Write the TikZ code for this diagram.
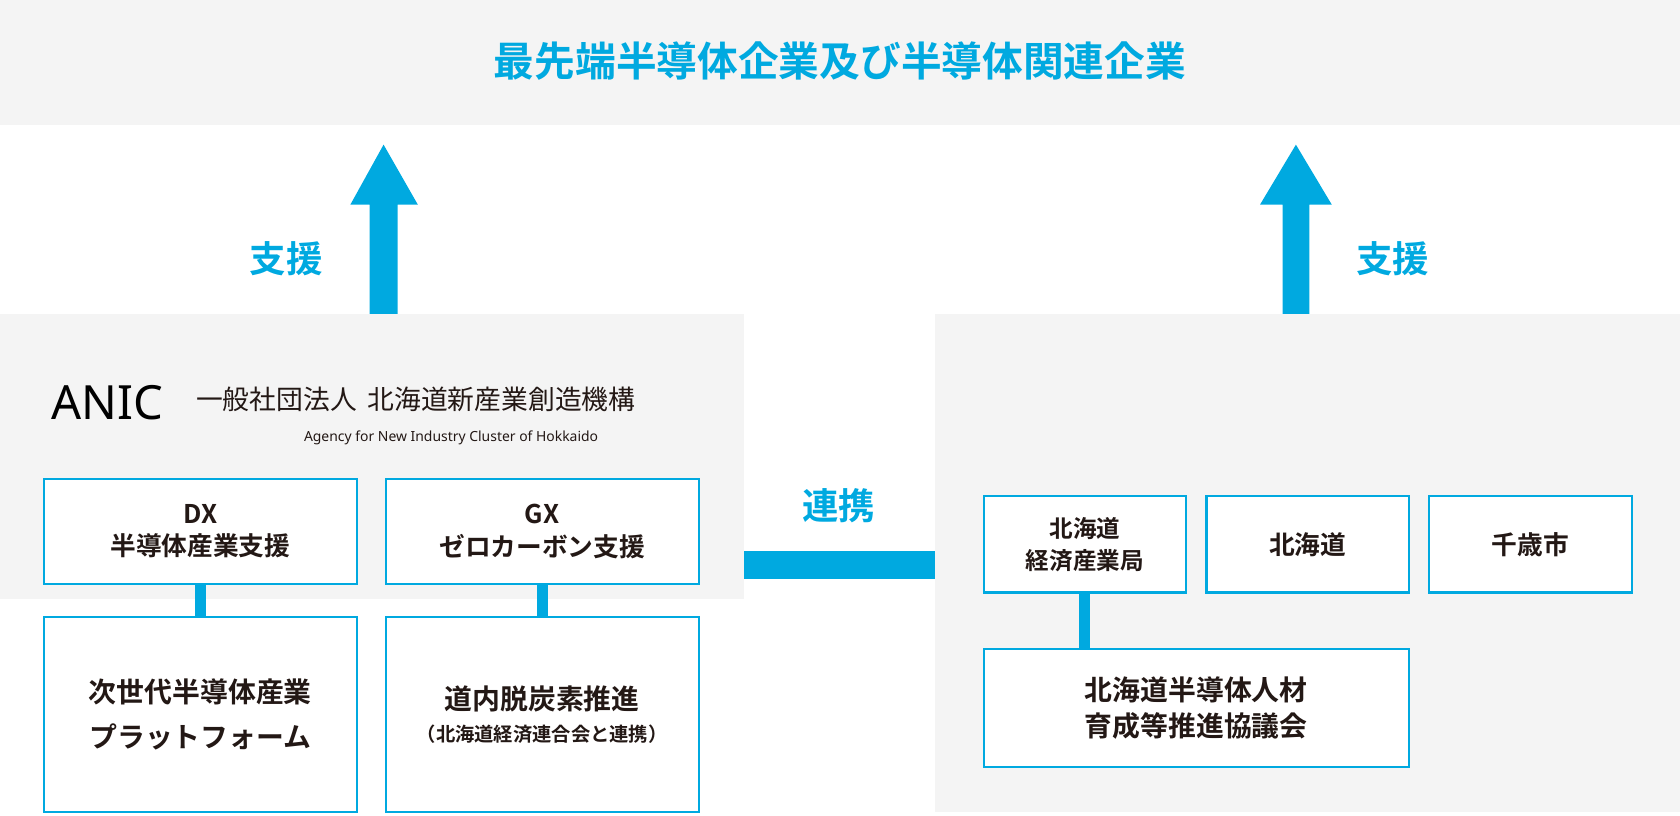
\documentclass[tikz,border=0pt]{standalone}
\usepackage{fontspec}
\setmainfont{Noto Sans CJK JP}[BoldFont={* Bold}]
\newfontfamily\jpb{Noto Sans CJK JP Bold}
\definecolor{blu}{HTML}{00A9E0}
\definecolor{pan}{HTML}{F4F4F4}
\definecolor{ink}{HTML}{231815}
\begin{document}
\begin{tikzpicture}[x=0.5pt,y=-0.5pt,
 bx/.style={draw=blu,line width=1pt,fill=white,align=center,text=ink,font=\jpb\fontsize{12}{15}\selectfont,inner sep=0pt},
 conn/.style={draw=blu,line width=5pt},
 arr/.style={fill=blu}]
\useasboundingbox (0,0) rectangle (1568,761);
\fill[pan] (0,0) rectangle (1568,117);
\node[text=blu,font=\jpb\fontsize{19}{22}\selectfont] (title) at (784,57) {最先端半導体企業及び半導体関連企業};
\fill[pan] (0,293) rectangle (694,559);
\fill[pan] (873,293) rectangle (1568,758);
% arrows
\fill[arr] (345,293) -- (345,191) -- (327,191) -- (358,135) -- (390,191) -- (371,191) -- (371,293) -- cycle;
\fill[arr] (1197,293) -- (1197,191) -- (1176,191) -- (1209.5,135) -- (1243,191) -- (1222,191) -- (1222,293) -- cycle;
\node[text=blu,font=\jpb\fontsize{17}{20}\selectfont] (s1) at (267,241) {支援};
\node[text=blu,font=\jpb\fontsize{17}{20}\selectfont] (s2) at (1300,241) {支援};
% ANIC
\node[text=black,font=\fontspec{Noto Sans}\bfseries\fontsize{22}{24}\selectfont] (anic) at (100,376) {ANIC};
\node[text=ink,font=\fontsize{12.5}{15}\selectfont,anchor=west] (org) at (176,373) {一般社団法人\hspace{0.4em}北海道新産業創造機構};
\node[text=ink,font=\fontspec{Noto Sans}\fontsize{6.5}{8}\selectfont] (eng) at (421,409) {Agency for New Industry Cluster of Hokkaido};
% left boxes
\node[bx,minimum width=146pt,minimum height=49pt] (dx) at (187,496) {DX\\半導体産業支援};
\node[bx,minimum width=146pt,minimum height=49pt] (gx) at (506,496) {GX\\ゼロカーボン支援};
\node[bx,minimum width=146pt,minimum height=91pt,font=\jpb\fontsize{13}{21}\selectfont] (ns) at (187,667) {次世代半導体産業\\プラットフォーム};
\node[bx,minimum width=146pt,minimum height=91pt] (dd) at (506,667) {{\fontsize{13}{21}\selectfont 道内脱炭素推進}\\{\fontsize{9}{14}\selectfont（北海道経済連合会と連携）}};
\draw[conn] (dx.south) -- (ns.north);
\draw[conn] (gx.south) -- (dd.north);
% link
\fill[blu] (694,514) rectangle (873,540);
\node[text=blu,font=\jpb\fontsize{17}{20}\selectfont] (rk) at (783,472) {連携};
\coordinate (lk) at (694,527);
% right boxes
\node[bx,minimum width=94.5pt,minimum height=45pt,font=\jpb\fontsize{11}{15}\selectfont] (kb) at (1012.5,508) {北海道\\経済産業局};
\node[bx,minimum width=94.5pt,minimum height=45pt] (hk) at (1220.5,508) {北海道};
\node[bx,minimum width=94.5pt,minimum height=45pt] (ct) at (1428.5,508) {千歳市};
\node[bx,minimum width=198.5pt,minimum height=55pt,font=\jpb\fontsize{13}{17}\selectfont] (kg) at (1116.5,661) {北海道半導体人材\\育成等推進協議会};
\draw[conn] (kb.south) -- (kg.north-|kb.south);
\end{tikzpicture}
\end{document}
